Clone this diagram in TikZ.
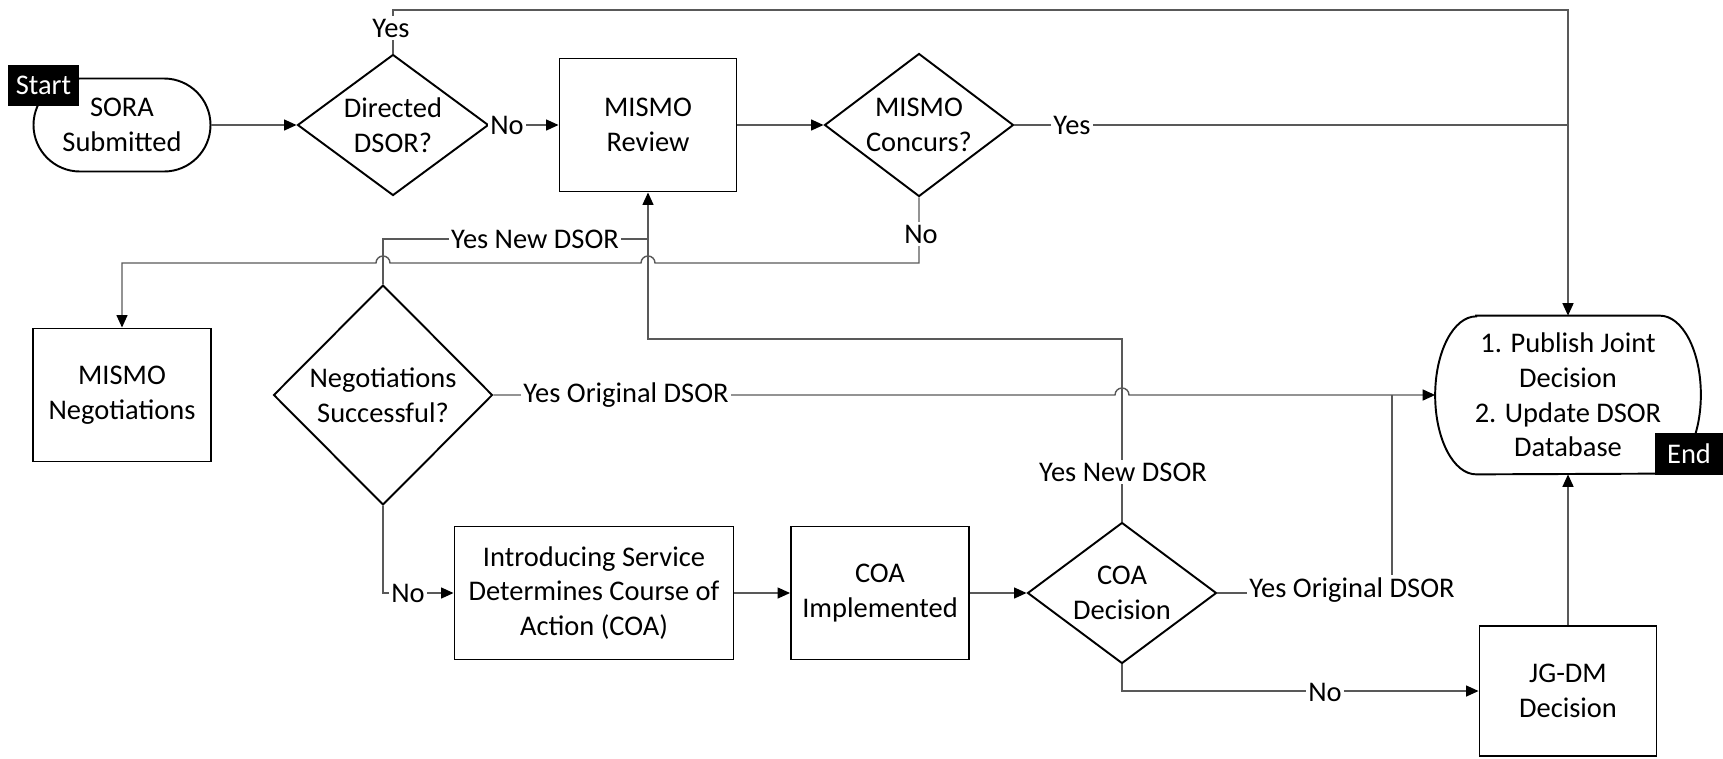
\documentclass[tikz,border=0pt]{standalone}
\usepackage{fontspec}
\setmainfont{Carlito}
\usetikzlibrary{shapes.geometric,arrows.meta,calc}
\newlength{\pxu}
\setlength{\pxu}{0.02cm}
\begin{document}
\begin{tikzpicture}[x=0.02cm,y=-0.02cm,
  every node/.style={font=\fontsize{16.2}{19.8}\selectfont},
  outline/.style={draw=black, line width=1.1pt},
  procbox/.style={outline, rectangle, align=center, inner sep=0pt, minimum height=133\pxu},
  decision/.style={outline, diamond, inner sep=0pt},
  terminal/.style={outline, rectangle, rounded corners=46.5\pxu, align=center, inner sep=0pt},
  tag/.style={fill=black, text=white, inner sep=0pt},
  conn/.style={draw=black!65, line width=0.8pt},
  arr/.style={-{Triangle[length=0.25cm,width=0.22cm,color=black]}},
  lbl/.style={fill=white, inner sep=1.5pt},
]
\useasboundingbox (0,0) rectangle (1723,758);

% ---- first row ----
\node[terminal, minimum width=177\pxu, minimum height=93\pxu] (sora) at (122,125) {SORA\\Submitted};
\node[decision, minimum width=191\pxu, minimum height=141\pxu,
      label={[align=center]center:Directed\\DSOR?}] (dd) at (393,125) {};
\node[procbox, minimum width=177\pxu] (mr) at (648,125) {MISMO\\Review};
\node[decision, minimum width=189\pxu, minimum height=143\pxu,
      label={[align=center]center:MISMO\\Concurs?}] (mc) at (919,125) {};

% ---- second row ----
\node[procbox, minimum width=178\pxu] (mneg) at (122,395) {MISMO\\Negotiations};
\node[decision, minimum width=219\pxu, minimum height=220\pxu,
      label={[align=center]center:Negotiations\\Successful?}] (ng) at (383,395) {};
\node[minimum width=265\pxu, minimum height=158\pxu, inner sep=0pt, align=center] (endn) at (1568,395)
  {1. Publish Joint\\Decision\\2. Update DSOR\\Database};
\draw[outline] ([xshift=0.82cm]endn.north west) -- ([xshift=-0.82cm]endn.north east)
  arc[start angle=90, end angle=-90, x radius=0.82cm, y radius=1.58cm]
  -- ([xshift=0.82cm]endn.south west)
  arc[start angle=270, end angle=90, x radius=0.82cm, y radius=1.58cm] -- cycle;

% ---- third row ----
\node[procbox, minimum width=279\pxu] (isd) at (594,593) {Introducing Service\\Determines Course of\\Action (COA)};
\node[procbox, minimum width=178\pxu] (coai) at (880,593) {COA\\Implemented};
\node[decision, minimum width=189\pxu, minimum height=141\pxu,
      label={[align=center]center:COA\\Decision}] (cd) at (1122,593) {};
\node[procbox, minimum width=177\pxu, minimum height=130\pxu] (jg) at (1568,691) {JG-DM\\Decision};

% ---- routing levels ----
\coordinate (topline) at (0,10);
\coordinate (ynline) at (0,239);
\coordinate (noline) at (0,263);
\coordinate (coaline) at (0,339);
\coordinate (yojoin) at (1392,395);

% ---- connectors ----
\draw[conn,arr] (sora.east) -- (dd.west);
\draw[conn,arr] (dd.east) -- (mr.west);
\draw[conn,arr] (mr.east) -- (mc.west);
\draw[conn,arr] (dd.north) -- (dd.north |- topline) -- (topline -| endn.north) -- (endn.north);
\draw[conn] (mc.east) -- (mc.east -| endn.north);
\draw[conn,arr] (mc.south) -- (mc.south |- noline)
  -- ($(noline -| mr.south)+(7,0)$) arc[start angle=0, end angle=180, radius=0.14cm]
  -- ($(noline -| ng.north)+(7,0)$) arc[start angle=0, end angle=180, radius=0.14cm]
  -- (noline -| mneg.north) -- (mneg.north);
\draw[conn,arr] (ng.north) -- (ng.north |- ynline) -- (ynline -| mr.south) -- (mr.south);
\draw[conn] (cd.north) -- (cd.north |- coaline) -- (coaline -| mr.south) -- (ynline -| mr.south);
\draw[conn,arr] (ng.east) -- ($(cd.north |- ng.east)+(-7,0)$)
  arc[start angle=180, end angle=0, radius=0.14cm] -- (endn.west);
\draw[conn] (cd.east) -- (cd.east -| yojoin) -- (yojoin);
\draw[conn,arr] (ng.south) |- (isd.west);
\draw[conn,arr] (isd.east) -- (coai.west);
\draw[conn,arr] (coai.east) -- (cd.west);
\draw[conn,arr] (cd.south) |- (jg.west);
\draw[conn,arr] (jg.north) -- (endn.south);

% ---- connector labels ----
\node[lbl] (l1) at (391,28) {Yes};
\node[lbl] (l2) at (507,125) {No};
\node[lbl] (l3) at (1072,125) {Yes};
\node[lbl] (l4) at (535,239) {Yes New DSOR};
\node[lbl] (l5) at (921,234) {No};
\node[lbl] (l6) at (626,395) {Yes Original DSOR};
\node[lbl] (l7) at (1123,472) {Yes New DSOR};
\node[lbl] (l8) at (408,593) {No};
\node[lbl] (l9) at (1352,590) {Yes Original DSOR};
\node[lbl] (l10) at (1325,692) {No};

% ---- start / end tags ----
\node[tag, minimum width=71\pxu, minimum height=41\pxu] (starttag) at (43.5,85.5) {Start};
\node[tag, minimum width=68\pxu, minimum height=42\pxu] (endtag) at (1689,454) {End};
\end{tikzpicture}
\end{document}
